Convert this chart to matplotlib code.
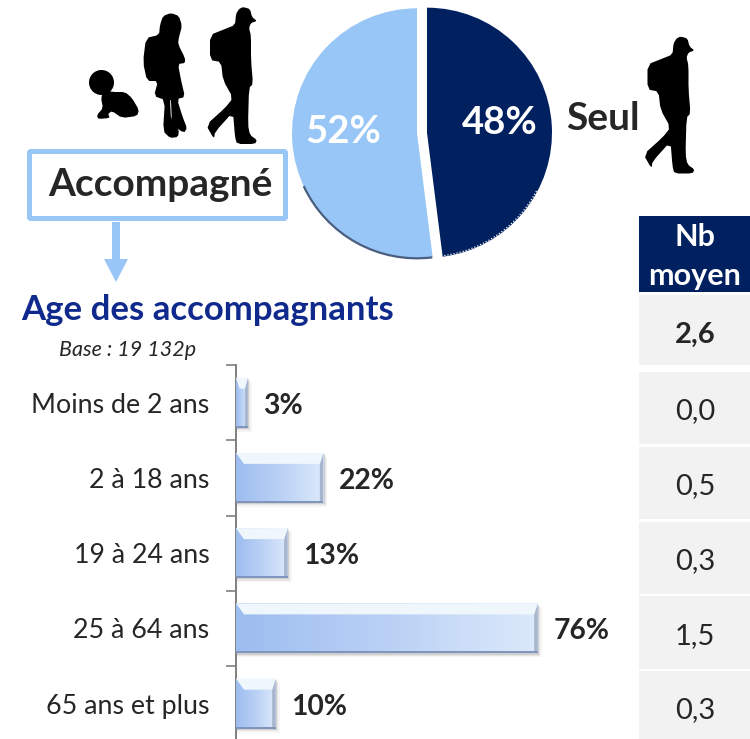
#!/usr/bin/env python
import matplotlib
matplotlib.use("Agg")
import matplotlib.pyplot as plt
from matplotlib.patches import Rectangle, FancyBboxPatch, Polygon, Arc, Circle
from matplotlib.colors import LinearSegmentedColormap
import numpy as np

plt.rcParams['font.family'] = ['Lato', 'DejaVu Sans']

# data
pie_values = [48, 52]
pie_labels = ["48%", "52%"]
age_labels = ["Moins de 2 ans", "2 à 18 ans", "19 à 24 ans", "25 à 64 ans", "65 ans et plus"]
age_values = [3, 22, 13, 76, 10]
table_header = ["Nb", "moyen"]
table_values = ["2,6", "0,0", "0,5", "0,3", "1,5", "0,3"]

W, H = 750, 739
DARK = "#002060"
LIGHT = "#97C6F7"
TXT = "#262626"


def ax_px(x0, y0, x1, y1):
    return fig.add_axes([x0 / W, 1 - y1 / H, (x1 - x0) / W, (y1 - y0) / H])


def smooth(pts, n=1):
    # corner cutting so the silhouettes don't look like polygons
    pts = np.asarray(pts, dtype=float)
    for _ in range(n):
        nxt = np.roll(pts, -1, axis=0)
        pts = np.column_stack([0.8 * pts + 0.2 * nxt, 0.2 * pts + 0.8 * nxt]).reshape(-1, 2)
    return pts


fig = plt.figure(figsize=(W / 100, H / 100), dpi=100, facecolor="white")

# overlay in pixel coords for everything decorative
ov = fig.add_axes([0, 0, 1, 1], zorder=5)
ov.set_xlim(0, W)
ov.set_ylim(H, 0)
ov.axis("off")

# silhouettes
walker = np.array([(243, 7), (250, 9), (252, 17), (257, 21), (251, 23), (249, 28), (251, 36), (251, 60),
                   (253, 84), (249, 88), (248, 125), (250, 135), (257, 140), (255, 144), (237, 144), (235, 137),
                   (233, 112), (215, 132), (214, 139), (206, 125), (225, 108), (233, 98), (223, 80), (221, 62),
                   (210, 60), (210, 35), (225, 29), (235, 25), (236, 14), (239, 9)])
child = [(171, 13), (179, 16), (182, 26), (179, 37), (178, 44), (185, 58), (185, 63), (178, 64), (181, 80),
         (185, 97), (177, 99), (183, 118), (187, 128), (184, 133), (172, 125), (171, 100), (170, 100), (171, 120),
         (179, 130), (178, 137), (170, 138), (163, 131), (165, 100), (154, 96), (158, 81), (147, 81), (143, 62),
         (146, 38), (159, 35), (160, 25), (163, 16)]
baby = [(104, 90), (113, 92), (125, 92), (132, 98), (139, 110), (137, 116), (122, 118), (112, 111), (108, 114),
        (110, 118), (98, 119), (97, 115), (103, 108), (101, 98)]
for shape in (walker, walker + (437.5, 29.5), child, baby):
    ov.add_patch(Polygon(smooth(shape), closed=True, fc="black", ec="none"))
ov.add_patch(Circle((101.5, 82.5), 12.5, fc="black", ec="none"))

# Accompagné box and arrow
ov.add_patch(FancyBboxPatch((29.5, 151.5), 256, 67, boxstyle="round,pad=0,rounding_size=1.5",
                            fc="white", ec=LIGHT, lw=3.6))
ov.text(160.5, 185, "Accompagné", ha="center", va="center", fontsize=28, fontweight="bold", color=TXT)
ov.add_patch(Polygon([(112, 222), (120, 222), (120, 259), (128, 259), (116, 282), (104, 259), (112, 259)],
                     closed=True, fc=LIGHT, ec="none"))

# pie
pie_ax = ax_px(282, -7, 562, 273)
wedges, _ = pie_ax.pie(pie_values, colors=[DARK, LIGHT], startangle=90, counterclock=False,
                       explode=[0.04, 0.04], radius=1.0)
pie_ax.set_xlim(-1.12, 1.12)
pie_ax.set_ylim(-1.12, 1.12)
pie_ax.patch.set_alpha(0)
# shaded lower rim on the light slice, dotted rim on the dark one
lc = wedges[1].center
pie_ax.add_patch(Arc(lc, 2, 2, theta1=205, theta2=277, color="#4A5F80", lw=1.6))
dc = wedges[0].center
pie_ax.add_patch(Arc(dc, 1.985, 1.985, theta1=-82, theta2=-28, color="white", lw=0.9, ls=(0, (1, 1.5))))
ov.text(343, 132, pie_labels[1], ha="center", va="center", fontsize=27.5, fontweight="bold", color="white")
ov.text(500, 123, pie_labels[0], ha="center", va="center", fontsize=27.5, fontweight="bold", color="white")
ov.text(602.5, 119, "Seul", ha="center", va="center", fontsize=28, fontweight="bold", color=TXT)

# titles
ov.text(21, 310, "Age des accompagnants", ha="left", va="center", fontsize=25, fontweight="bold", color="#0F2A8C")
ov.text(59, 350, "Base : 19 132p", ha="left", va="center", fontsize=15.5, style="italic", color=TXT)

# bars
PX_PER_UNIT = 3.97
ROW = 75.2
bar_ax = ax_px(236, 365, 236 + 100 * PX_PER_UNIT, 739)
bar_ax.set_xlim(0, 100)
bar_ax.set_ylim(4.47, -0.5)
bar_ax.patch.set_alpha(0)
for s in ("top", "right", "bottom"):
    bar_ax.spines[s].set_visible(False)
bar_ax.spines["left"].set_color("#7F7F7F")
bar_ax.spines["left"].set_linewidth(1.4)
bar_ax.set_xticks([])
pos = np.arange(len(age_values))
bar_ax.set_yticks(pos)
bar_ax.set_yticklabels(age_labels, fontsize=19.3, color=TXT)
bar_ax.tick_params(axis="y", which="major", length=0, pad=19)
bar_ax.set_yticks(np.arange(len(age_values)) - 0.5, minor=True)
bar_ax.tick_params(axis="y", which="minor", length=7, width=1.2, color="#7F7F7F")

dx = 1 / PX_PER_UNIT
dy = 1 / ROW
bar_h = 50 * dy
grad = LinearSegmentedColormap.from_list("barfill", ["#9DBDF0", "#BAD1F5", "#DCE9FB"])
bars = bar_ax.barh(pos, age_values, height=bar_h, color="#BCD3F5", zorder=3)
for b, v, y in zip(bars, age_values, pos):
    top = y - bar_h / 2
    bot = y + bar_h / 2
    # soft shadow
    for k, a in ((4, 0.06), (2.5, 0.10), (1.2, 0.16)):
        bar_ax.add_patch(Rectangle((0, top + k * dy), v + k * dx, bar_h, fc="#606060", ec="none", alpha=a, zorder=2))
    im = bar_ax.imshow(np.linspace(0, 1, 64).reshape(1, -1), extent=(0, v, bot, top), cmap=grad,
                       aspect="auto", zorder=3.1, interpolation="bilinear")
    im.set_clip_path(b)
    bev_x = min(8, v * PX_PER_UNIT * 0.3) * dx
    edge = min(3.5, v * PX_PER_UNIT * 0.25) * dx
    # top highlight, right bevel, lower edge
    bar_ax.add_patch(Polygon([(v - edge, top + 11 * dy), (v, top), (v, bot), (v - edge, bot - 2 * dy)],
                             closed=True, fc="#A7B5CD", ec="none", zorder=3.2))
    bar_ax.add_patch(Polygon([(0, top), (v, top), (v - edge, top + 11 * dy), (bev_x, top + 11 * dy)],
                             closed=True, fc="#EFF7FD", ec="none", zorder=3.25))
    bar_ax.add_patch(Rectangle((0, bot - 2 * dy), v, 2 * dy, fc="#7F95BC", ec="none", zorder=3.3))
    bar_ax.text(v + 15.5 * dx, y + 3 * dy, "%d%%" % v, ha="left", va="center", fontsize=20.3, fontweight="bold",
                color=TXT)
bar_ax.set_xlim(0, 100)
bar_ax.set_ylim(4.47, -0.5)

# table on the right
ov.add_patch(Rectangle((639, 216), 111, 76, fc=DARK, ec="none"))
ov.text(695, 237, table_header[0], ha="center", va="center", fontsize=22, fontweight="bold", color="white")
ov.text(695, 276, table_header[1], ha="center", va="center", fontsize=22, fontweight="bold", color="white")
cell_top = [295, 372, 447, 522, 596, 671]
cell_bot = [365, 444, 519, 594, 669, 739]
cell_mid = [335, 411, 486, 561, 636, 710]
for i, t in enumerate(table_values):
    ov.add_patch(Rectangle((639, cell_top[i]), 111, cell_bot[i] - cell_top[i], fc="#F2F2F2", ec="none"))
    ov.text(695, cell_mid[i], t, ha="center", va="center", fontsize=21, color=TXT,
            fontweight="bold" if i == 0 else "normal")

fig.savefig("out.png", dpi=100)
